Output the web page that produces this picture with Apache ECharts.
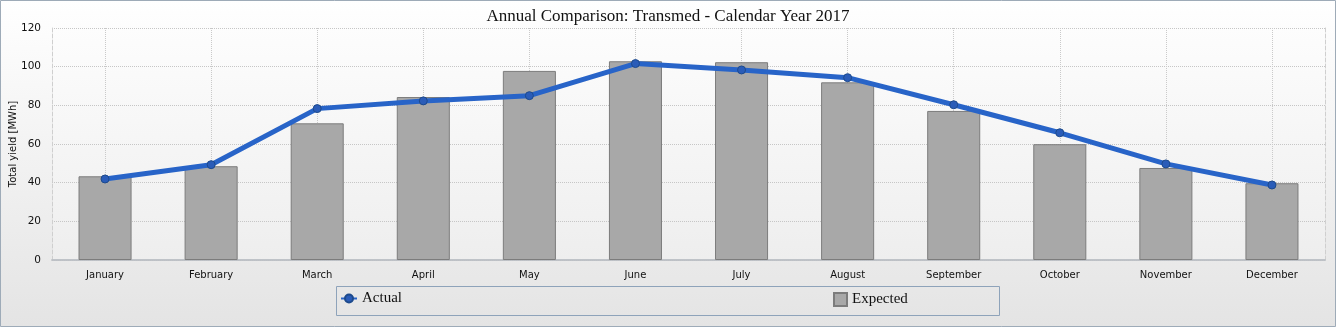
<!DOCTYPE html>
<html>
<head>
<meta charset="utf-8">
<script src="https://cdn.jsdelivr.net/npm/echarts@6/dist/echarts.min.js"></script>
<style>html,body{margin:0;padding:0;}#c{width:1336px;height:327px;}</style>
</head>
<body>
<div id="c"></div>
<script>
const months = ['January','February','March','April','May','June','July','August','September','October','November','December'];
const actual = [41.9, 49.3, 78.3, 82.3, 85.0, 101.6, 98.3, 94.3, 80.3, 65.8, 49.7, 38.8];
const expected = [43.3, 48.5, 70.7, 84.3, 97.8, 102.8, 102.3, 91.9, 77.1, 59.9, 47.6, 39.7];
const yTicks = [0, 20, 40, 60, 80, 100, 120];

const chart = echarts.init(document.getElementById('c'), null, {renderer: 'canvas'});
const serif = '"Liberation Serif", "DejaVu Serif", serif';
const sans = '"DejaVu Sans", sans-serif';
chart.setOption({
  animation: false,
  title: {
    text: 'Annual Comparison: Transmed - Calendar Year 2017',
    left: 'center', top: 3,
    textStyle: {fontFamily: serif, fontSize: 17, fontWeight: 'normal', color: '#111'}
  },
  graphic: [
    {type: 'rect', silent: true, z: -100,
     shape: {x: 0.5, y: 0.5, width: 1335, height: 326},
     style: {fill: new echarts.graphic.LinearGradient(0, 0, 0, 1, [{offset: 0, color: '#ffffff'}, {offset: 1, color: '#e4e4e4'}]),
             stroke: '#9eabb8', lineWidth: 1}},
    {type: 'rect', silent: true, z: -50,
     shape: {x: 336.5, y: 286.5, width: 663, height: 29},
     style: {fill: 'rgba(0,0,0,0)', stroke: '#8ea3ba', lineWidth: 1}}
  ],
  legend: [
    {left: 340, top: 291, data: ['Actual'], itemWidth: 16, itemHeight: 10, padding: 0,
     textStyle: {fontFamily: serif, fontSize: 15, color: '#111'}},
    {left: 833, top: 292, data: [{name: 'Expected', icon: 'rect'}], itemWidth: 13, itemHeight: 13, padding: 0,
     textStyle: {fontFamily: serif, fontSize: 15, color: '#111'}}
  ],
  grid: {
    left: 52, right: 11, top: 28, bottom: 67, show: true, borderWidth: 0,
    outerBoundsMode: 'none', containLabel: false,
    backgroundColor: new echarts.graphic.LinearGradient(0, 0, 0, 1, [{offset: 0, color: '#fdfdfd'}, {offset: 1, color: '#eeeeee'}])
  },
  xAxis: [
    {type: 'category', data: months, boundaryGap: true,
     axisLine: {lineStyle: {color: '#c2c6cb', width: 1.5}},
     axisTick: {alignWithLabel: true, length: 5, lineStyle: {color: '#c8c8c8', type: 'dotted'}},
     axisLabel: {fontFamily: sans, fontSize: 10, color: '#111', margin: 10},
     splitLine: {show: true, alignWithLabel: true, lineStyle: {color: '#cacaca', type: 'dotted'}}},
    {type: 'category', data: months, position: 'top',
     axisLine: {lineStyle: {color: '#babec4', width: 1.5}},
     axisTick: {show: false}, axisLabel: {show: false}, splitLine: {show: false}}
  ],
  yAxis: [
    {type: 'value', min: yTicks[0], max: yTicks[yTicks.length - 1], interval: 20,
     name: 'Total yield [MWh]', nameLocation: 'middle', nameGap: 34, nameMoveOverlap: false,
     nameTextStyle: {fontFamily: sans, fontSize: 10, color: '#111'},
     axisLine: {show: true, lineStyle: {color: '#cfcfcf', type: 'dashed'}},
     axisTick: {show: false},
     axisLabel: {fontFamily: sans, fontSize: 10.5, color: '#111', margin: 11},
     splitLine: {lineStyle: {color: '#c6c6c6', type: 'dotted'}}},
    {type: 'value', min: yTicks[0], max: yTicks[yTicks.length - 1], interval: 20, position: 'right',
     axisLine: {show: true, lineStyle: {color: '#cfcfcf', type: 'dashed'}},
     axisTick: {show: false}, axisLabel: {show: false}, splitLine: {show: false}}
  ],
  series: [
    {name: 'Expected', type: 'bar', data: expected, barWidth: '50%',
     itemStyle: {color: '#a8a8a8', borderColor: '#7c7c7c', borderWidth: 1}},
    {name: 'Actual', type: 'line', data: actual, z: 5,
     symbol: 'circle', symbolSize: 8,
     lineStyle: {color: '#2864c8', width: 5},
     itemStyle: {color: '#2a5cb8', borderColor: '#1d4a8c', borderWidth: 1}}
  ]
});
</script>
</body>
</html>
